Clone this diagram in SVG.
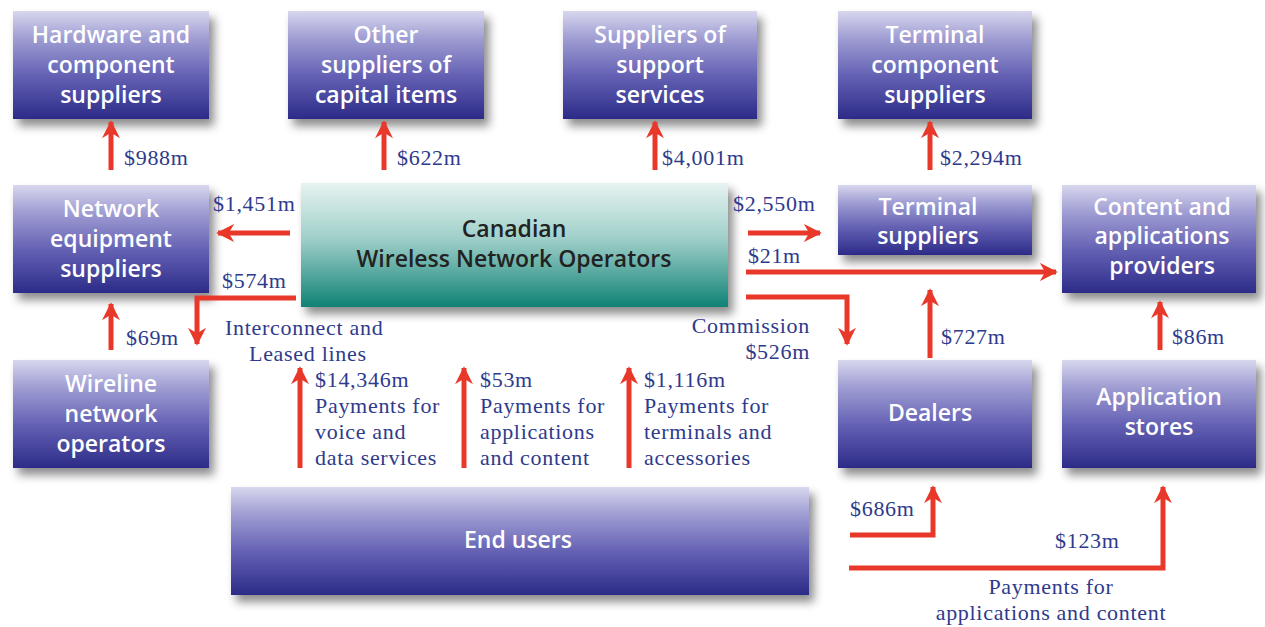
<svg xmlns="http://www.w3.org/2000/svg" width="1265" height="627" viewBox="0 0 1265 627">
  <defs>
    <linearGradient id="gBlue" x1="0" y1="0" x2="0" y2="1">
      <stop offset="0" stop-color="#d8d7ee"/>
      <stop offset="0.25" stop-color="#a09ed3"/>
      <stop offset="0.6" stop-color="#6461b4"/>
      <stop offset="1" stop-color="#2c2b88"/>
    </linearGradient>
    <linearGradient id="gTeal" x1="0" y1="0" x2="0" y2="1">
      <stop offset="0" stop-color="#e6f3f1"/>
      <stop offset="0.45" stop-color="#9fcfc9"/>
      <stop offset="1" stop-color="#108276"/>
    </linearGradient>
    <filter id="shadow" x="-10%" y="-10%" width="130%" height="140%">
      <feDropShadow dx="5" dy="7" stdDeviation="5" flood-color="#000" flood-opacity="0.45"/>
    </filter>
    <marker id="ah" viewBox="0 0 10 10" refX="9" refY="5" markerWidth="3.6" markerHeight="3.6" orient="auto" markerUnits="strokeWidth">
      <path d="M0,0 L10,5 L0,10 L3,5 z" fill="#e8382a"/>
    </marker>
  </defs>
  <style>
    .box { fill: url(#gBlue); filter: url(#shadow); }
    .core { fill: url(#gTeal); filter: url(#shadow); }
    .bt { font-family: "Open Sans", "DejaVu Sans", sans-serif; font-weight: 600; font-size: 23px; fill: #ffffff; text-anchor: middle; }
    .ct { font-family: "Open Sans", "DejaVu Sans", sans-serif; font-weight: 600; font-size: 23px; fill: #222222; text-anchor: middle; }
    .lb { font-family: "Liberation Serif", serif; font-size: 22px; letter-spacing: 0.7px; fill: #2e3a8c; }
    .fl { fill: none; stroke: #e8382a; stroke-width: 5; stroke-linejoin: miter; marker-end: url(#ah); }
  </style>

  <rect width="1265" height="627" fill="#ffffff"/>

  <!-- supplier row -->
  <g id="hardware">
    <rect class="box" x="13" y="11" width="196" height="108"/>
    <text class="bt" x="111" y="43">Hardware and</text>
    <text class="bt" x="111" y="73">component</text>
    <text class="bt" x="111" y="103">suppliers</text>
  </g>
  <g id="capital">
    <rect class="box" x="288" y="11" width="196" height="108"/>
    <text class="bt" x="386" y="43">Other</text>
    <text class="bt" x="386" y="73">suppliers of</text>
    <text class="bt" x="386" y="103">capital items</text>
  </g>
  <g id="support">
    <rect class="box" x="563" y="11" width="194" height="108"/>
    <text class="bt" x="660" y="43">Suppliers of</text>
    <text class="bt" x="660" y="73">support</text>
    <text class="bt" x="660" y="103">services</text>
  </g>
  <g id="termcomp">
    <rect class="box" x="838" y="11" width="194" height="108"/>
    <text class="bt" x="935" y="43">Terminal</text>
    <text class="bt" x="935" y="73">component</text>
    <text class="bt" x="935" y="103">suppliers</text>
  </g>

  <!-- middle row -->
  <g id="netequip">
    <rect class="box" x="13" y="185" width="196" height="108"/>
    <text class="bt" x="111" y="217">Network</text>
    <text class="bt" x="111" y="247">equipment</text>
    <text class="bt" x="111" y="277">suppliers</text>
  </g>
  <g id="operators">
    <rect class="core" x="301" y="183" width="427" height="124"/>
    <text class="ct" x="514" y="237">Canadian</text>
    <text class="ct" x="514" y="267">Wireless Network Operators</text>
  </g>
  <g id="termsup">
    <rect class="box" x="838" y="185" width="194" height="70"/>
    <text class="bt" x="928" y="215">Terminal</text>
    <text class="bt" x="928" y="244">suppliers</text>
  </g>
  <g id="content">
    <rect class="box" x="1062" y="185" width="194" height="108"/>
    <text class="bt" x="1162" y="215">Content and</text>
    <text class="bt" x="1162" y="244">applications</text>
    <text class="bt" x="1162" y="274">providers</text>
  </g>

  <!-- lower row -->
  <g id="wireline">
    <rect class="box" x="13" y="360" width="196" height="108"/>
    <text class="bt" x="111" y="392">Wireline</text>
    <text class="bt" x="111" y="422">network</text>
    <text class="bt" x="111" y="452">operators</text>
  </g>
  <g id="dealers">
    <rect class="box" x="838" y="360" width="194" height="108"/>
    <text class="bt" x="930" y="421">Dealers</text>
  </g>
  <g id="appstores">
    <rect class="box" x="1062" y="360" width="194" height="108"/>
    <text class="bt" x="1159" y="405">Application</text>
    <text class="bt" x="1159" y="435">stores</text>
  </g>
  <g id="endusers">
    <rect class="box" x="231" y="487" width="578" height="108"/>
    <text class="bt" x="518" y="548">End users</text>
  </g>

  <!-- money flows -->
  <g id="connectors">
    <path class="fl" d="M111,170 V122"/>
    <path class="fl" d="M384,170 V122"/>
    <path class="fl" d="M655,170 V122"/>
    <path class="fl" d="M930,170 V122"/>
    <path class="fl" d="M290,233 H218"/>
    <path class="fl" d="M296,298 H197 V344"/>
    <path class="fl" d="M111,350 V304"/>
    <path class="fl" d="M300,468 V368"/>
    <path class="fl" d="M464,468 V368"/>
    <path class="fl" d="M629,468 V368"/>
    <path class="fl" d="M748,233 H820"/>
    <path class="fl" d="M746,272 H1056"/>
    <path class="fl" d="M746,297 H847 V344"/>
    <path class="fl" d="M930,358 V290"/>
    <path class="fl" d="M1160,350 V302"/>
    <path class="fl" d="M850,535 H933 V487"/>
    <path class="fl" d="M849,568 H1163 V487"/>
  </g>

  <!-- amounts and notes -->
  <g id="labels">
    <text class="lb" x="124" y="165">$988m</text>
    <text class="lb" x="397" y="165">$622m</text>
    <text class="lb" x="662" y="165">$4,001m</text>
    <text class="lb" x="940" y="165">$2,294m</text>
    <text class="lb" x="213" y="211">$1,451m</text>
    <text class="lb" x="222" y="288">$574m</text>
    <text class="lb" x="126" y="345">$69m</text>
    <text class="lb" x="225" y="335">Interconnect and</text>
    <text class="lb" x="249" y="361">Leased lines</text>
    <text class="lb" x="315" y="387">$14,346m</text>
    <text class="lb" x="315" y="413">Payments for</text>
    <text class="lb" x="315" y="439">voice and</text>
    <text class="lb" x="315" y="465">data services</text>
    <text class="lb" x="480" y="387">$53m</text>
    <text class="lb" x="480" y="413">Payments for</text>
    <text class="lb" x="480" y="439">applications</text>
    <text class="lb" x="480" y="465">and content</text>
    <text class="lb" x="644" y="387">$1,116m</text>
    <text class="lb" x="644" y="413">Payments for</text>
    <text class="lb" x="644" y="439">terminals and</text>
    <text class="lb" x="644" y="465">accessories</text>
    <text class="lb" x="733" y="211">$2,550m</text>
    <text class="lb" x="748" y="263">$21m</text>
    <text class="lb" x="810" y="333" text-anchor="end">Commission</text>
    <text class="lb" x="810" y="359" text-anchor="end">$526m</text>
    <text class="lb" x="941" y="344">$727m</text>
    <text class="lb" x="1172" y="344">$86m</text>
    <text class="lb" x="850" y="516">$686m</text>
    <text class="lb" x="1055" y="548">$123m</text>
    <text class="lb" x="1051" y="594" text-anchor="middle">Payments for</text>
    <text class="lb" x="1051" y="620" text-anchor="middle">applications and content</text>
  </g>
</svg>
